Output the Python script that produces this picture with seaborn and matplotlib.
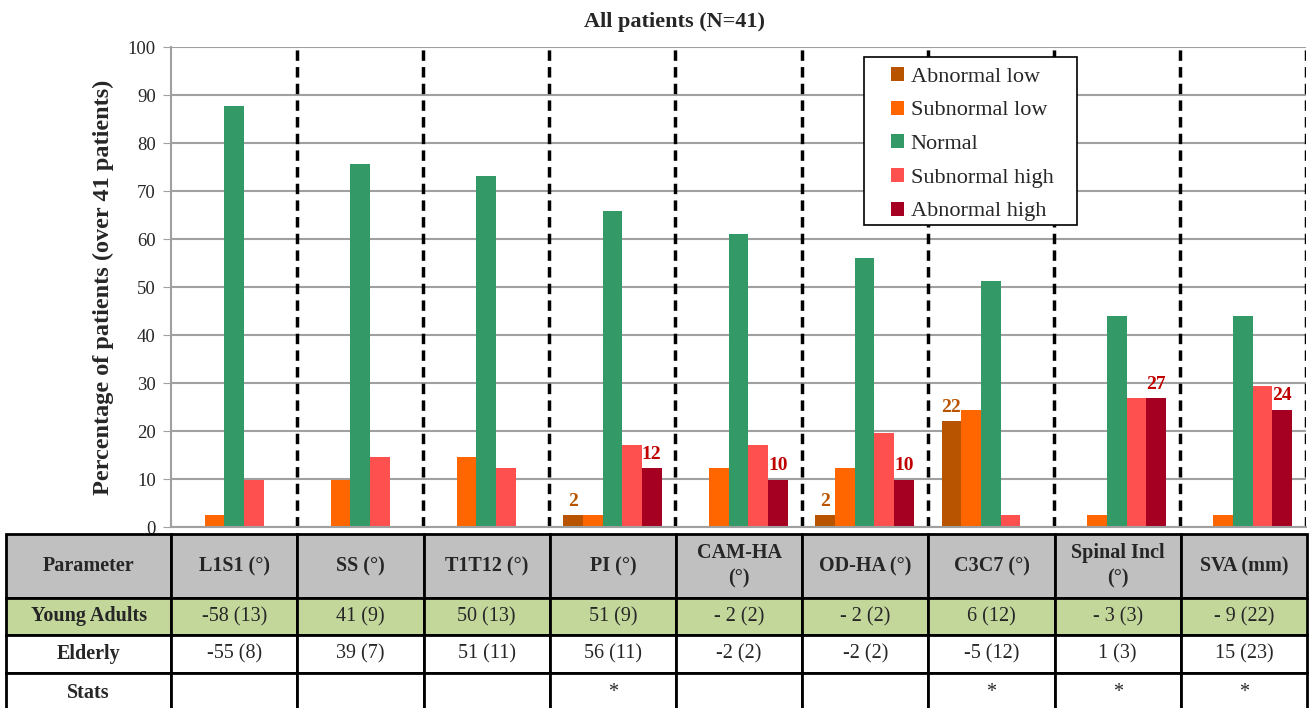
import pandas as pd
import matplotlib.pyplot as plt
import seaborn as sns
from matplotlib.patches import Rectangle

# Paramèterek és kategóriák
params = ["L1S1", "SS", "T1T12", "PI", "CAM-HA", "OD-HA", "C3C7", "Spinal Incl", "SVA"]
levels = ["Abnormal low", "Subnormal low", "Normal", "Subnormal high", "Abnormal high"]

# Százalékos értékek (41 betegből)
abnormal_low = [0, 0, 0, 2.4, 0, 2.4, 22.0, 0, 0]
subnormal_low = [2.4, 9.8, 14.6, 2.4, 12.2, 12.2, 24.4, 2.4, 2.4]
normal = [87.8, 75.6, 73.2, 65.9, 61.0, 56.1, 51.2, 43.9, 43.9]
subnormal_high = [9.8, 14.6, 12.2, 17.1, 17.1, 19.5, 2.4, 26.8, 29.3]
abnormal_high = [0, 0, 0, 12.2, 9.8, 9.8, 0, 26.8, 24.4]

# Feliratok a sávok felett
low_labels = ["", "", "", "2", "", "2", "22", "", ""]
high_labels = ["", "", "", "12", "10", "10", "", "27", "24"]

colors = ["#B85400", "#FF6600", "#339966", "#FF5050", "#A50021"]

# Táblázat adatai
table_header = ["Parameter", "L1S1 (°)", "SS (°)", "T1T12 (°)", "PI (°)", "CAM-HA\n(°)",
                "OD-HA (°)", "C3C7 (°)", "Spinal Incl\n(°)", "SVA (mm)"]
young_adults = ["Young Adults", "-58 (13)", "41 (9)", "50 (13)", "51 (9)", "- 2 (2)",
                "- 2 (2)", "6 (12)", "- 3 (3)", "- 9 (22)"]
elderly = ["Elderly", "-55 (8)", "39 (7)", "51 (11)", "56 (11)", "-2 (2)",
           "-2 (2)", "-5 (12)", "1 (3)", "15 (23)"]
stats = ["Stats", "", "", "", "*", "", "", "*", "*", "*"]

# Hosszú formátum
rows = []
for lev, vals in zip(levels, [abnormal_low, subnormal_low, normal, subnormal_high, abnormal_high]):
    for p, v in zip(params, vals):
        rows.append({"param": p, "level": lev, "pct": v})
df = pd.DataFrame(rows)

sns.set_style("white")
plt.rcParams["font.family"] = ["Liberation Serif", "DejaVu Serif"]

fig = plt.figure(figsize=(13.1, 7.08), dpi=100)
ax = fig.add_axes([171 / 1310, 1 - 527 / 708, 1135 / 1310, 480 / 708])

sns.barplot(data=df, x="param", y="pct", hue="level", order=params, hue_order=levels,
            palette=colors, saturation=1, width=0.78, linewidth=0, ax=ax)

ax.set_ylim(0, 100)
ax.set_xlim(-0.5, len(params) - 0.5)
ax.set_yticks(range(0, 101, 10))
ax.tick_params(axis="y", labelsize=13.5, length=6, color="#a0a0a0", left=True, pad=5)
ax.set_xticks([])
ax.set_xlabel("")
ax.set_ylabel("Percentage of patients (over 41 patients)", fontsize=17.5, fontweight="bold", labelpad=10)
ax.yaxis.grid(True, color="#a0a0a0", linewidth=1.5)
ax.set_axisbelow(True)
for s in ["top", "right"]:
    ax.spines[s].set_visible(False)
for s in ["left", "bottom"]:
    ax.spines[s].set_color("#a0a0a0")
    ax.spines[s].set_linewidth(1.5)

# Szaggatott elválasztók
for i in range(len(params)):
    ax.axvline(i + 0.5, color="black", linestyle=(0, (3, 1.8)), linewidth=2.5, zorder=1)

# Feliratok
ax.bar_label(ax.containers[0], labels=low_labels, color="#B85400", fontweight="bold",
             fontsize=14, padding=4)
ax.bar_label(ax.containers[4], labels=high_labels, color="#C00000", fontweight="bold",
             fontsize=14, padding=4)

fig.text(0.515, 1 - 22 / 708, "All patients (N=41)", ha="center", va="center",
         fontsize=16, fontweight="bold")

# Jelmagyarázat külön kerettel
ax.add_patch(Rectangle((0.6106, 0.629), 0.1877, 0.35, transform=ax.transAxes,
                       facecolor="white", edgecolor="black", linewidth=1.2, zorder=4))
handles, labs = ax.get_legend_handles_labels()
leg = ax.legend(handles, labs, loc="upper left", bbox_to_anchor=(0.634, 0.9585),
                borderaxespad=0, borderpad=0, fontsize=16, frameon=False,
                handlelength=0.6, handleheight=0.6, handletextpad=0.3, labelspacing=0.62)
leg.set_zorder(5)

# Táblázat
tax = fig.add_axes([6 / 1310, 1 - 712 / 708, 1301 / 1310, 178 / 708])
tax.axis("off")
cell_text = [table_header, young_adults, elderly, stats]
cell_colours = [["#C0C0C0"] * 10, ["#C4D79B"] * 10, ["white"] * 10, ["white"] * 10]
col_widths = [165] + [126] * 9
tbl = tax.table(cellText=cell_text, cellColours=cell_colours, colWidths=col_widths,
                cellLoc="center", bbox=[0, 0, 1, 1])
tbl.auto_set_font_size(False)
row_heights = [64, 37, 38, 39]
for (r, c), cell in tbl.get_celld().items():
    cell.set_height(row_heights[r])
    cell.set_edgecolor("black")
    cell.set_linewidth(2)
    txt = cell.get_text()
    txt.set_fontsize(14.5)
    txt.set_linespacing(1.35)
    if r == 0 or c == 0:
        txt.set_fontweight("bold")

fig.savefig("out.png", dpi=100)
print("kész")
